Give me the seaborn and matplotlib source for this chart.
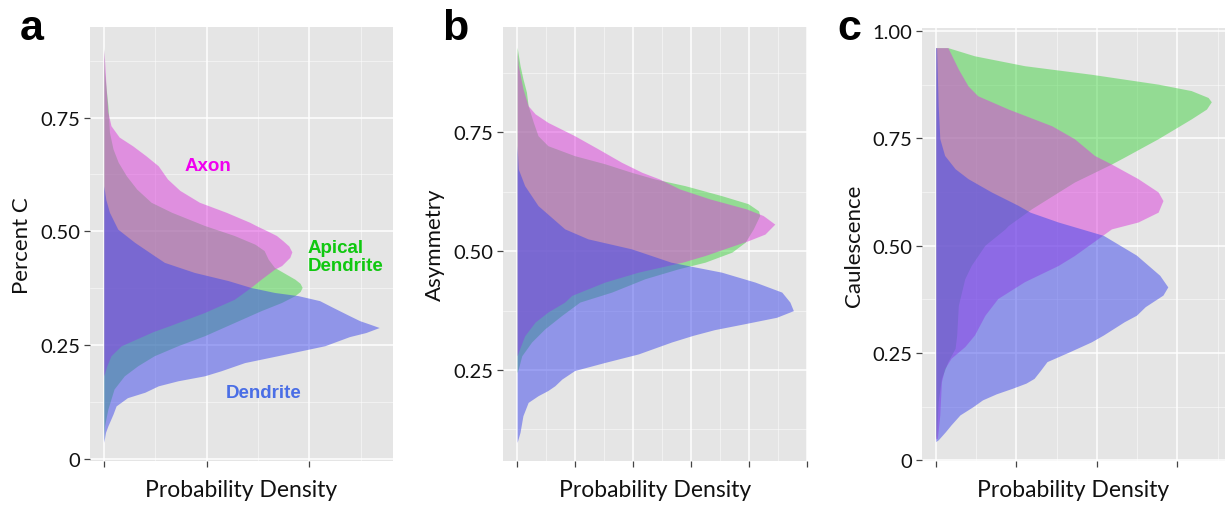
import matplotlib
matplotlib.use("Agg")
import matplotlib.pyplot as plt
import seaborn as sns
from matplotlib.ticker import MultipleLocator, NullFormatter, FixedLocator

# ---------------- data (value on y, probability density on x) ----------------
# Panel a : Percent C
a_apical_v = [0.040, 0.073, 0.110, 0.154, 0.183, 0.205, 0.227, 0.249, 0.271, 0.300, 0.326, 0.344, 0.359,
              0.368, 0.377, 0.386, 0.395, 0.408, 0.421, 0.439, 0.458, 0.472, 0.491, 0.513, 0.542, 0.564,
              0.593, 0.622, 0.652, 0.681, 0.718, 0.776, 0.850, 0.904]
a_apical_d = [0.0, 0.007, 0.04, 0.10, 0.20, 0.33, 0.49, 0.72, 0.98, 1.27, 1.53, 1.73, 1.86,
              1.91, 1.93, 1.91, 1.86, 1.76, 1.66, 1.60, 1.56, 1.47, 1.27, 0.98, 0.66, 0.46,
              0.32, 0.22, 0.14, 0.09, 0.055, 0.04, 0.007, 0.0]
a_axon_v = [0.183, 0.205, 0.227, 0.249, 0.265, 0.280, 0.293, 0.322, 0.351, 0.377, 0.395, 0.417, 0.425,
            0.443, 0.455, 0.468, 0.480, 0.491, 0.500, 0.513, 0.520, 0.542, 0.564, 0.590, 0.615, 0.644,
            0.666, 0.688, 0.707, 0.732, 0.762, 0.813, 0.879, 0.900]
a_axon_d = [0.0, 0.03, 0.07, 0.17, 0.33, 0.48, 0.64, 0.98, 1.27, 1.43, 1.53, 1.66, 1.73,
            1.81, 1.83, 1.80, 1.74, 1.68, 1.60, 1.48, 1.42, 1.19, 0.93, 0.74, 0.62, 0.53,
            0.41, 0.28, 0.15, 0.07, 0.04, 0.023, 0.007, 0.0]
a_dend_v = [0.037, 0.059, 0.073, 0.099, 0.117, 0.135, 0.147, 0.161, 0.172, 0.183, 0.194, 0.212, 0.227,
            0.249, 0.269, 0.278, 0.289, 0.297, 0.304, 0.315, 0.333, 0.348, 0.359, 0.366, 0.377, 0.392,
            0.410, 0.432, 0.447, 0.476, 0.505, 0.542, 0.570, 0.600]
a_dend_d = [0.0, 0.017, 0.04, 0.09, 0.12, 0.23, 0.40, 0.53, 0.72, 0.98, 1.14, 1.37, 1.69,
            2.15, 2.39, 2.55, 2.68, 2.58, 2.49, 2.39, 2.23, 2.10, 1.89, 1.66, 1.43, 1.21,
            0.88, 0.59, 0.49, 0.30, 0.136, 0.055, 0.02, 0.0]

# Panel b : Asymmetry
b_apical_v = [0.245, 0.252, 0.280, 0.309, 0.337, 0.365, 0.393, 0.414, 0.442, 0.463, 0.477, 0.498, 0.519,
              0.547, 0.575, 0.585, 0.600, 0.617, 0.638, 0.652, 0.666, 0.684, 0.701, 0.722, 0.743, 0.771,
              0.806, 0.835, 0.863, 0.891, 0.929]
b_apical_d = [0.0, 0.02, 0.08, 0.25, 0.48, 0.77, 1.08, 1.63, 2.20, 2.78, 3.24, 3.70, 3.93,
              4.07, 4.18, 4.16, 3.98, 3.52, 2.89, 2.37, 1.97, 1.51, 0.99, 0.53, 0.36, 0.28,
              0.19, 0.16, 0.10, 0.05, 0.0]
b_axon_v = [0.280, 0.287, 0.322, 0.351, 0.372, 0.393, 0.407, 0.435, 0.456, 0.477, 0.491, 0.515, 0.522,
            0.536, 0.557, 0.575, 0.589, 0.610, 0.631, 0.652, 0.666, 0.687, 0.715, 0.743, 0.771, 0.789,
            0.806, 0.842, 0.891, 0.920]
b_axon_d = [0.0, 0.02, 0.13, 0.31, 0.53, 0.82, 0.94, 1.51, 2.09, 2.85, 3.24, 3.81, 3.98,
            4.27, 4.44, 4.24, 3.95, 3.32, 2.80, 2.45, 2.15, 1.80, 1.40, 0.99, 0.53, 0.31,
            0.19, 0.10, 0.02, 0.0]
b_dend_v = [0.098, 0.119, 0.154, 0.182, 0.196, 0.207, 0.217, 0.231, 0.249, 0.266, 0.284, 0.309, 0.323,
            0.335, 0.347, 0.361, 0.375, 0.393, 0.414, 0.435, 0.456, 0.466, 0.477, 0.505, 0.526, 0.547,
            0.596, 0.638, 0.673, 0.722]
b_dend_d = [0.0, 0.05, 0.10, 0.19, 0.36, 0.53, 0.65, 0.77, 0.99, 1.51, 2.09, 2.66, 3.03,
            3.40, 3.90, 4.47, 4.76, 4.70, 4.56, 4.10, 3.52, 3.10, 2.65, 1.97, 1.22, 0.82,
            0.36, 0.13, 0.02, 0.0]

# Panel c : Caulescence
c_apical_v = [0.050, 0.059, 0.137, 0.191, 0.230, 0.261, 0.292, 0.361, 0.423, 0.454, 0.501, 0.539, 0.547,
              0.586, 0.648, 0.690, 0.706, 0.749, 0.795, 0.818, 0.835, 0.845, 0.861, 0.876, 0.899, 0.919,
              0.942, 0.961]
c_apical_d = [0.0, 0.01, 0.03, 0.07, 0.15, 0.24, 0.26, 0.28, 0.36, 0.44, 0.61, 0.86, 0.90,
              1.19, 1.72, 2.18, 2.34, 2.76, 3.17, 3.36, 3.42, 3.38, 3.17, 2.76, 1.93, 1.10,
              0.48, 0.15]
c_axon_v = [0.050, 0.052, 0.106, 0.183, 0.214, 0.238, 0.265, 0.292, 0.338, 0.377, 0.416, 0.454, 0.477,
            0.516, 0.539, 0.555, 0.578, 0.605, 0.625, 0.656, 0.690, 0.710, 0.749, 0.779, 0.818, 0.849,
            0.872, 0.911, 0.961]
c_axon_d = [0.0, 0.02, 0.05, 0.07, 0.11, 0.19, 0.36, 0.48, 0.61, 0.77, 1.10, 1.52, 1.72,
            2.01, 2.18, 2.51, 2.76, 2.82, 2.76, 2.51, 2.18, 1.97, 1.72, 1.44, 0.90, 0.52,
            0.40, 0.28, 0.15]
c_dend_v = [0.044, 0.048, 0.067, 0.083, 0.106, 0.125, 0.141, 0.155, 0.168, 0.180, 0.191, 0.210, 0.230,
            0.253, 0.276, 0.292, 0.323, 0.338, 0.358, 0.385, 0.404, 0.431, 0.478, 0.524, 0.555, 0.578,
            0.594, 0.625, 0.656, 0.679, 0.710, 0.749, 0.826, 0.961]
c_dend_d = [0.0, 0.03, 0.12, 0.19, 0.30, 0.46, 0.58, 0.75, 0.95, 1.12, 1.22, 1.30, 1.38,
            1.66, 1.93, 2.08, 2.34, 2.49, 2.60, 2.82, 2.88, 2.78, 2.49, 2.08, 1.52, 1.17,
            1.02, 0.69, 0.40, 0.24, 0.11, 0.05, 0.03, 0.01]

panel_letters = ["a", "b", "c"]
y_labels = ["Percent C", "Asymmetry", "Caulescence"]
x_label = "Probability Density"
a_yticks = [0, 0.25, 0.50, 0.75]
a_yticklabels = ["0", "0.25", "0.50", "0.75"]
b_yticks = [0.25, 0.50, 0.75]
b_yticklabels = ["0.25", "0.50", "0.75"]
c_yticks = [0, 0.25, 0.50, 0.75, 1.00]
c_yticklabels = ["0", "0.25", "0.50", "0.75", "1.00"]
series_names = ["Apical Dendrite", "Axon", "Dendrite"]

# ---------------- style ----------------
sns.set_theme(style="darkgrid")
plt.rcParams['font.family'] = ['Lato', 'DejaVu Sans']

FILL = {"Apical Dendrite": "#43d343", "Axon": "#db3bdb", "Dendrite": "#3d47eb"}
ALPHA = 0.5
BG = "#e5e5e5"

W, H = 1225, 506
fig = plt.figure(figsize=(W / 100, H / 100), dpi=100)


def make_ax(left, top, right, bottom):
    return fig.add_axes([left / W, 1 - bottom / H, (right - left) / W, (bottom - top) / H])


ax_a = make_ax(90, 28.3, 393, 462)
ax_b = make_ax(503.3, 28.3, 807.3, 462)
ax_c = make_ax(922, 29.3, 1225, 462.3)

panels = [
    (ax_a, [(a_apical_v, a_apical_d), (a_axon_v, a_axon_d), (a_dend_v, a_dend_d)],
     (-0.134, 2.814), (-0.004, 0.948), 1, a_yticks, a_yticklabels),
    (ax_b, [(b_apical_v, b_apical_d), (b_axon_v, b_axon_d), (b_dend_v, b_dend_d)],
     (-0.238, 5.0), (0.0587, 0.971), 1, b_yticks, b_yticklabels),
    (ax_c, [(c_apical_v, c_apical_d), (c_axon_v, c_axon_d), (c_dend_v, c_dend_d)],
     (-0.171, 3.59), (-0.002, 1.006), 1, c_yticks, c_yticklabels),
]

for i, (ax, series, xl, yl, xstep, yt, ytl) in enumerate(panels):
    ax.set_facecolor(BG)
    for name, (v, d) in zip(series_names, series):
        ax.fill_betweenx(v, 0, d, color=FILL[name], alpha=ALPHA, linewidth=0, zorder=3)
    ax.set_xlim(*xl)
    ax.set_ylim(*yl)
    ax.xaxis.set_major_locator(MultipleLocator(xstep))
    ax.xaxis.set_minor_locator(MultipleLocator(xstep / 2))
    ax.xaxis.set_major_formatter(NullFormatter())
    ax.yaxis.set_major_locator(FixedLocator(yt))
    ax.set_yticklabels(ytl)
    ax.yaxis.set_minor_locator(MultipleLocator(0.125))
    ax.grid(which="major", color="white", linewidth=1.1, zorder=0)
    ax.grid(which="minor", color="white", linewidth=0.5, alpha=0.7, zorder=0)
    ax.set_axisbelow(True)
    for s in ax.spines.values():
        s.set_visible(False)
    ax.tick_params(axis="both", which="major", length=4, width=0.9, color="#444444",
                   labelsize=14.5, labelcolor="#111111", pad=3, bottom=True, left=True)
    ax.tick_params(axis="both", which="minor", length=0)
    ax.set_xlabel(x_label, fontsize=16.5, color="#111111", labelpad=6)
    ax.set_ylabel(y_labels[i], fontsize=16, color="#111111", labelpad=6)

# panel letters
for letter, (px, py) in zip(panel_letters, [(20, 40), (442, 40), (837, 40)]):
    fig.text(px / W, 1 - py / H, letter, fontsize=31, fontweight="bold",
             family=["Liberation Sans", "DejaVu Sans"], ha="left", va="baseline", color="black")

# series labels in panel a
lab_font = dict(fontsize=13.5, fontweight="bold", family=["Liberation Sans", "DejaVu Sans"])
ax_a.text(1.01, 0.644, "Axon", color="#f000f0", ha="center", va="center", zorder=5, **lab_font)
ax_a.text(1.98, 0.445, "Apical\nDendrite", color="#10c810", ha="left", va="center",
          linespacing=1.05, zorder=5, **lab_font)
ax_a.text(1.555, 0.147, "Dendrite", color="#4a6ee6", ha="center", va="center", zorder=5, **lab_font)

fig.savefig("out.png", dpi=100, facecolor="white")
